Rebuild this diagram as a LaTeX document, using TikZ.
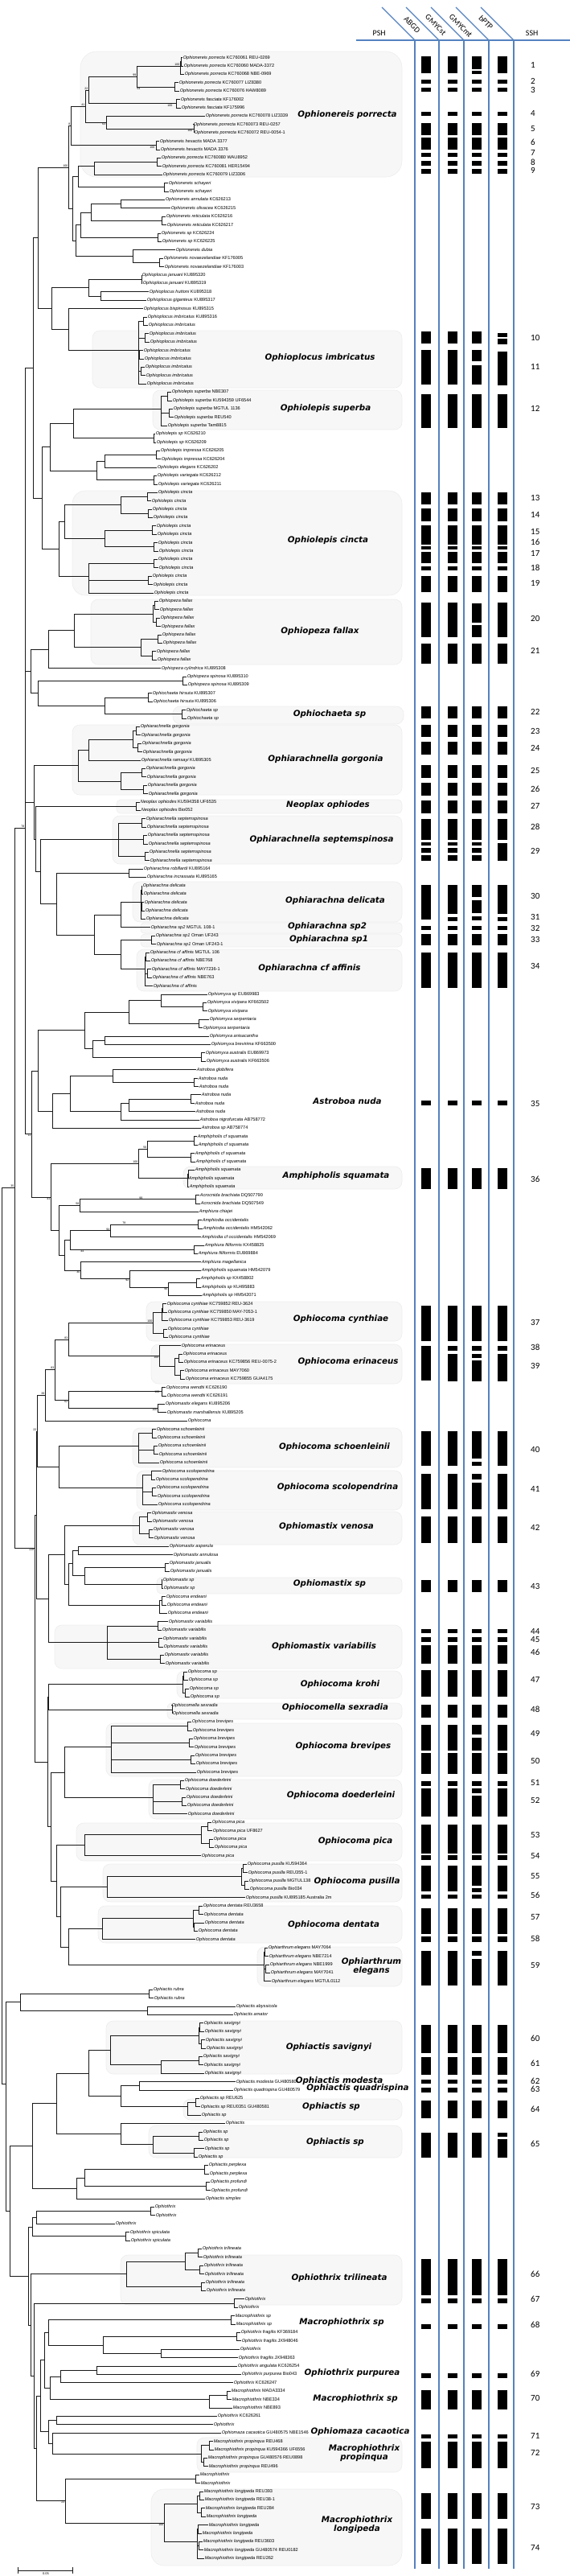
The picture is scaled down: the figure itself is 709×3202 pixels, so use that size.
\documentclass[tikz,border=0pt]{standalone}
\usepackage{fontspec}
\setmainfont{Liberation Sans}
\newfontfamily\leaffont{Liberation Sans}
\newfontfamily\cladefont{DejaVu Sans}
\newfontfamily\numfont{Carlito}
\usetikzlibrary{calc}
\definecolor{colblue}{RGB}{84,130,190}

% voucher / accession text of one leaf
\newcommand\lab[2]{\expandafter\def\csname lab#1\endcsname{#2}}
\newcommand\labtext[2]{{\itshape #2}\ifcsname lab#1\endcsname\ \csname lab#1\endcsname\fi}

\lab{1}{KC760061 REU-0269}\lab{2}{KC760060 MADA-3372}\lab{3}{KC760068 NBE-0969}
\lab{4}{KC760077 LIZ8380}\lab{5}{KC760076 HAW8089}\lab{6}{KF176002}\lab{7}{KF175996}
\lab{8}{KC760078 LIZ3339}\lab{9}{KC760073 REU-0257}\lab{10}{KC760072 REU-0054-1}
\lab{11}{MADA 3377}\lab{12}{MADA 3376}\lab{13}{KC760080 WAU8952}
\lab{14}{KC760081 HER15494}\lab{15}{KC760079 LIZ3306}
\lab{18}{KC626213}\lab{19}{KC626215}\lab{20}{KC626216}\lab{21}{KC626217}
\lab{22}{KC626224}\lab{23}{KC626225}\lab{25}{KF176005}\lab{26}{KF176003}
\lab{27}{KU895320}\lab{28}{KU895319}\lab{29}{KU895318}\lab{30}{KU895317}
\lab{31}{KU895315}\lab{32}{KU895316}
\lab{41}{NBE307}\lab{42}{KU594359 UF6544}\lab{43}{MGTUL 1136}\lab{44}{REU540}
\lab{45}{Tam8815}\lab{46}{KC626210}\lab{47}{KC626209}\lab{48}{KC626205}
\lab{49}{KC626204}\lab{50}{KC626202}\lab{51}{KC626212}\lab{52}{KC626211}
\lab{74}{KU895308}\lab{75}{KU895310}\lab{76}{KU895309}\lab{77}{KU895307}
\lab{78}{KU895306}\lab{85}{KU895305}\lab{90}{KU594358 UF6535}\lab{91}{Bio052}
\lab{98}{KU895164}\lab{99}{KU895165}\lab{105}{MGTUL 108-1}\lab{106}{Oman UF243}
\lab{107}{Oman UF243-1}\lab{108}{MGTUL 106}\lab{109}{NBE768}\lab{110}{MAY7236-1}
\lab{111}{NBE763}\lab{113}{EU869983}\lab{114}{KF663502}\lab{119}{KF663500}
\lab{120}{EU869973}\lab{121}{KF663506}\lab{128}{AB758772}\lab{129}{AB758774}
\lab{137}{DQ507790}\lab{138}{DQ507549}\lab{141}{HM542062}\lab{142}{HM542069}
\lab{143}{KX458825}\lab{144}{EU869884}\lab{146}{HM542079}\lab{147}{KX458802}
\lab{148}{KU495883}\lab{149}{HM542071}
\lab{150}{KC759852 REU-3624}\lab{151}{KC759850 MAY-7053-1}\lab{152}{KC759853 REU-3619}
\lab{157}{KC759856 REU-0075-2}\lab{158}{MAY7060}\lab{159}{KC759855 GUA4175}
\lab{160}{KC626190}\lab{161}{KC626191}\lab{162}{KU895206}\lab{163}{KU895205}
\lab{213}{UF8627}\lab{217}{KU594364}\lab{218}{REU355-1}\lab{219}{MGTUL138}
\lab{220}{Bio034}\lab{221}{KU895185 Australia 2m}\lab{222}{REU3658}
\lab{227}{MAY7064}\lab{228}{NBE7214}\lab{229}{NBE1999}\lab{230}{MAY7041}
\lab{231}{MGTUL0112}\lab{243}{GU480580}\lab{244}{GU480579}\lab{245}{REU625}
\lab{246}{REU0351 GU480581}\lab{273}{KF369184}\lab{274}{JX948046}\lab{276}{JX948363}
\lab{277}{KC626254}\lab{278}{Bio043}\lab{279}{KC626247}\lab{280}{MADA3334}
\lab{281}{NBE334}\lab{282}{NBE893}\lab{283}{KC626261}\lab{285}{GU480575 NBE1546}
\lab{286}{REU468}\lab{287}{KU594366 UF6556}\lab{288}{GU480576 REU0898}
\lab{289}{REU496}\lab{292}{REU393}\lab{293}{REU38-1}\lab{294}{REU284}
\lab{298}{REU3603}\lab{299}{GU480574 REU0182}\lab{300}{REU262}

% a run of leaves, joined in pairs, hanging from one crown
\newcommand\grp[6]{%
  \pgfmathtruncatemacro\gn{#3-#2+1}%
  \pgfmathtruncatemacro\gp{ceil(\gn/2)-1}%
  \coordinate (#1) at (#4, {61.3+10.396*(#2+#3)/2});
  \foreach \k in {0,...,\gp}{%
    \pgfmathtruncatemacro\ia{#2+2*\k}%
    \pgfmathtruncatemacro\ib{\ia+1}%
    \pgfmathsetmacro\ta{#5+mod(\ia*37,9)-4}%
    \node[leaf] (L\ia) at (\ta, {61.3+10.396*\ia}) {\labtext{\ia}{#6}};
    \ifnum\ib>#3\relax
      \draw[br] (#1) |- (L\ia.west);
    \else
      \pgfmathsetmacro\tb{#5+mod(\ib*37,9)-4}%
      \pgfmathsetmacro\px{max(#4+1,min(\ta,\tb)-5)}%
      \node[leaf] (L\ib) at (\tb, {61.3+10.396*\ib}) {\labtext{\ib}{#6}};
      \coordinate (#1-\k) at (\px, {61.3+10.396*(\ia+0.5)});
      \draw[br] (#1) |- (#1-\k);
      \draw[br] (#1-\k) |- (L\ia.west);
      \draw[br] (#1-\k) |- (L\ib.west);
    \fi
  }%
}
% a single leaf
\newcommand\lf[3]{\node[leaf] (L#1) at (#2, {61.3+10.396*#1}) {\labtext{#1}{#3}};}
% an inner node at x, halfway between two children
\newcommand\jn[4]{%
  \path let \p1=(#3), \p2=(#4) in coordinate (#1) at (#2pt, {0.5*\y1+0.5*\y2});
  \draw[br] (#1) |- (#3);
  \draw[br] (#1) |- (#4);
}
% an inner node at a given x and y
\newcommand\jny[5]{%
  \coordinate (#1) at (#2,#3);
  \draw[br] (#1) |- (#4);
  \draw[br] (#1) |- (#5);
}

\begin{document}
\begin{tikzpicture}[x=1pt, y=-1pt,
  br/.style={line width=0.8pt, black!90},
  leaf/.style={anchor=west, inner sep=0.6pt, font=\leaffont\fontsize{5.6}{6}\selectfont},
  bs/.style={inner sep=0.5pt, font=\leaffont\fontsize{3.6}{4}\selectfont},
  clade/.style={font=\cladefont\bfseries\itshape\fontsize{10.3}{11.5}\selectfont, align=center, inner sep=0pt},
  cbox/.style={fill=black!3, draw=black!7, line width=0.6pt, rounded corners=9pt},
  num/.style={anchor=west, inner sep=0pt, font=\numfont\fontsize{11}{12}\selectfont},
  hdr/.style={inner sep=0pt, font=\numfont\fontsize{10}{11}\selectfont},
  col/.style={colblue, line width=1.1pt},
  bar/.style={fill=black}]
\useasboundingbox (0,0) rectangle (709,3202);

% clade boxes
\draw[cbox, rounded corners=20pt] (100,64) rectangle (500,220);
\draw[cbox] (115,411) rectangle (500,482);
\draw[cbox] (190,485) rectangle (500,534);
\draw[cbox, rounded corners=16pt] (90,610) rectangle (500,740);
\draw[cbox] (113,745) rectangle (500,826);
\draw[cbox] (215,878) rectangle (502,900);
\draw[cbox] (90,901) rectangle (500,988);
\draw[cbox, rounded corners=5pt] (145,994) rectangle (500,1011);
\draw[cbox] (140,1014) rectangle (500,1074);
\draw[cbox] (165,1096) rectangle (500,1146);
\draw[cbox, rounded corners=4pt] (175,1147) rectangle (500,1160);
\draw[cbox, rounded corners=5pt] (175,1161) rectangle (500,1177);
\draw[cbox] (170,1180) rectangle (500,1232);
\draw[cbox] (228,1450) rectangle (500,1478);
\draw[cbox] (182,1618) rectangle (500,1667);
\draw[cbox] (188,1671) rectangle (500,1720);
\draw[cbox] (165,1775) rectangle (500,1824);
\draw[cbox] (170,1828) rectangle (500,1877);
\draw[cbox] (165,1879) rectangle (500,1920);
\draw[cbox, rounded corners=6pt] (195,1961) rectangle (500,1981);
\draw[cbox] (68,2020) rectangle (500,2074);
\draw[cbox] (220,2077) rectangle (500,2111);
\draw[cbox, rounded corners=6pt] (208,2117) rectangle (500,2137);
\draw[cbox] (132,2142) rectangle (500,2208);
\draw[cbox] (185,2212) rectangle (500,2261);
\draw[cbox] (95,2266) rectangle (500,2313);
\draw[cbox] (128,2317) rectangle (500,2364);
\draw[cbox] (122,2369) rectangle (500,2415);
\draw[cbox] (320,2420) rectangle (500,2469);
\draw[cbox] (132,2512) rectangle (500,2578);
\draw[cbox] (228,2609) rectangle (500,2635);
\draw[cbox] (185,2642) rectangle (500,2682);
\draw[cbox] (150,2803) rectangle (500,2865);
\draw[cbox] (245,3030) rectangle (500,3073);
\draw[cbox, rounded corners=16pt] (188,3094) rectangle (500,3189);

% Ophionereis
\grp{oA1}{1}{3}{224}{230}{Ophionereis porrecta}
\grp{oA2}{4}{5}{175}{222}{Ophionereis porrecta}
\jn{o99}{170}{oA1}{oA2}
\grp{oB}{6}{7}{215}{222}{Ophionereis fasciata}
\jn{o22}{110}{o99}{oB}
\lf{8}{255}{Ophionereis porrecta}
\grp{oC}{9}{10}{240}{244}{Ophionereis porrecta}
\jn{o63}{132}{L8.west}{oC}
\jn{o41}{106}{o22}{o63}
\grp{oD}{11}{12}{193}{200}{Ophionereis hexactis}
\jn{o8}{88}{o41}{oD}
\grp{oE}{13}{15}{117}{200}{Ophionereis porrecta}
\grp{oF}{16}{17}{180}{206}{Ophionereis schayeri}
\jn{oM}{97}{oE}{oF}
\lf{18}{205}{Ophionereis annulata}
\lf{19}{212}{Ophionereis olivacea}
\jn{oAO}{150}{L18.west}{L19.west}
\grp{oR}{20}{21}{170}{208}{Ophionereis reticulata}
\jn{oAR}{113}{oAO}{oR}
\grp{oS}{22}{23}{195}{200}{Ophionereis sp}
\jn{oAS}{100}{oAR}{oS}
\lf{24}{218}{Ophionereis dubia}
\grp{oN}{25}{26}{190}{200}{Ophionereis novaezelandiae}
\jn{oDN}{165}{L24.west}{oN}
\jn{oLo}{94}{oAS}{oDN}
\jn{oMid}{90}{oM}{oLo}
\jn{onereis}{85}{o8}{oMid}
\node[bs, above left] at (oA1) {100};
\node[bs, above left] at (o99) {99};
\node[bs, below left] at (oA2) {54};
\node[bs, above left] at (o22) {22};
\node[bs, above left] at (o41) {41};
\node[bs, below left] at (oB) {100};
\node[bs, below left] at (o63) {63};
\node[bs, below left] at (oC) {100};
\node[bs, above left] at (o8) {8};
\node[bs, below left] at (oD) {100};
\node[bs, above left] at (onereis) {100};

% Ophioplocus
\grp{pJ}{27}{28}{175}{180}{Ophioplocus januarii}
\lf{29}{185}{Ophioplocus huttoni}
\lf{30}{182}{Ophioplocus giganteus}
\jn{pHG}{125}{L29.west}{L30.west}
\jn{pA}{110}{pJ}{pHG}
\lf{31}{178}{Ophioplocus bispinosus}
\grp{pI}{32}{40}{172}{182}{Ophioplocus imbricatus}
\jn{pC}{85}{L31.west}{pI}
\jn{plocus}{64}{pA}{pC}
\jn{o67}{47}{onereis}{plocus}

% Ophiolepis
\grp{lSu}{41}{45}{200}{212}{Ophiolepis superba}
\grp{lSp}{46}{47}{190}{196}{Ophiolepis sp}
\jn{lSS}{91}{lSu}{lSp}
\grp{lIm}{48}{49}{180}{200}{Ophiolepis impressa}
\lf{50}{195}{Ophiolepis elegans}
\jn{lIE}{130}{lIm}{L50.west}
\grp{lVa}{51}{52}{190}{193}{Ophiolepis variegata}
\jn{lIEV}{120}{lIE}{lVa}
\jn{lB}{62}{lSS}{lIEV}
\grp{lC1}{53}{56}{150}{192}{Ophiolepis cincta}
\grp{lC2}{57}{60}{130}{195}{Ophiolepis cincta}
\grp{lC3}{61}{65}{110}{193}{Ophiolepis cincta}
\jn{lC12}{80}{lC1}{lC2}
\jn{lCi}{73}{lC12}{lC3}
\jn{lepis}{52}{lB}{lCi}
\jn{o58}{41}{o67}{lepis}

% Ophiopeza, Ophiochaeta
\grp{zF1}{66}{69}{190}{198}{Ophiopeza fallax}
\grp{zF2}{70}{73}{175}{198}{Ophiopeza fallax}
\jn{zFal}{92}{zF1}{zF2}
\lf{74}{200}{Ophiopeza cylindrica}
\jn{zFC}{60}{zFal}{L74.west}
\grp{zSp}{75}{76}{105}{233}{Ophiopeza spinosa}
\grp{zHi}{77}{78}{150}{188}{Ophiochaeta hirsuta}
\grp{zCs}{79}{80}{222}{228}{Ophiochaeta sp}
\jn{zHC}{130}{zHi}{zCs}
\jn{zSH}{47}{zSp}{zHC}
\jn{peza}{38}{zFC}{zSH}

% Ophiarachnella, Neoplax, Ophiarachna
\grp{aG1}{81}{84}{165}{178}{Ophiarachnella gorgonia}
\lf{85}{175}{Ophiarachnella ramsayi}
\jn{aGa}{110}{aG1}{L85.west}
\grp{aG2}{86}{89}{150}{180}{Ophiarachnella gorgonia}
\jn{aGor}{97}{aGa}{aG2}
\grp{aNe}{90}{91}{153}{178}{Neoplax ophiodes}
\grp{aSe}{92}{97}{147}{183}{Ophiarachnella septemspinosa}
\lf{98}{178}{Ophiarachna robillardi}
\lf{99}{182}{Ophiarachna incrassata}
\jn{aIn}{160}{L98.west}{L99.west}
\grp{aDe}{100}{104}{175}{180}{Ophiarachna delicata}
\lf{105}{187}{Ophiarachna sp2}
\grp{aS1}{106}{107}{180}{190}{Ophiarachna sp1}
\grp{aAf}{108}{112}{180}{190}{Ophiarachna cf affinis}
\jn{aD2}{150}{aDe}{L105.west}
\jn{aS1A}{150}{aS1}{aAf}
\jn{aDA}{117}{aD2}{aS1A}
\jn{aIDA}{70}{aIn}{aDA}
\jn{aSIDA}{50}{aSe}{aIDA}
\jn{aNS}{44}{aNe}{aSIDA}
\jn{arach}{42}{aGor}{aNS}

% Ophiomyxa, Astroboa
\lf{113}{258}{Ophiomyxa sp}
\grp{mX1}{114}{115}{230}{255}{Ophiomyxa vivipara}
\jn{mXa}{200}{L113.west}{mX1}
\grp{mX2}{116}{117}{240}{256}{Ophiomyxa serpentaria}
\jn{mXb}{160}{mXa}{mX2}
\lf{118}{260}{Ophiomyxa anisacantha}
\lf{119}{262}{Ophiomyxa brevirima}
\jn{mXc}{130}{L118.west}{L119.west}
\grp{mX3}{120}{121}{220}{256}{Ophiomyxa australis}
\jn{mXd}{115}{mXc}{mX3}
\jn{myxa}{105}{mXb}{mXd}
\lf{122}{244}{Astroboa globifera}
\grp{bA1}{123}{124}{200}{244}{Astroboa nuda}
\jn{bAa}{140}{L122.west}{bA1}
\grp{bA2}{125}{127}{160}{246}{Astroboa nuda}
\lf{128}{248}{Astroboa nigrofurcata}
\jn{bA3}{150}{bA2}{L128.west}
\jn{bAb}{87}{bAa}{bA3}
\lf{129}{250}{Astroboa sp}
\jn{astro}{65}{bAb}{L129.west}
\jn{myAs}{47}{myxa}{astro}

% Amphipholis, Amphiura
\grp{hA}{130}{131}{240}{245}{Amphipholis cf squamata}
\grp{hB}{132}{133}{235}{240}{Amphipholis cf squamata}
\jn{h56}{183}{hA}{hB}
\grp{hC}{134}{136}{233}{238}{Amphipholis squamata}
\jn{h100}{172}{h56}{hC}
\grp{uA}{137}{138}{178}{250}{Acrocnida brachiata}
\lf{139}{247}{Amphiura chiajei}
\jn{u58}{99}{uA}{L139.west}
\grp{uB}{140}{141}{157}{250}{Amphiodia occidentalis}
\lf{142}{250}{Amphiodia cf occidentalis}
\jn{u94}{137}{uB}{L142.west}
\grp{uC}{143}{144}{105}{250}{Amphiura filiformis}
\jn{u25}{87}{u94}{uC}
\lf{145}{250}{Amphiura magellanica}
\lf{146}{250}{Amphipholis squamata}
\grp{uD}{147}{149}{209}{250}{Amphipholis sp}
\jn{u92}{161}{L146.west}{uD}
\jn{u30}{100}{L145.west}{u92}
\jn{u11}{80}{u25}{u30}
\jn{u25b}{73}{u58}{u11}
\jn{h41}{63}{h100}{u25b}
\jn{c11}{39}{myAs}{h41}
\node[bs, above left] at (h100) {100};
\node[bs, above left] at (h56) {56};
\node[bs, above left] at (u58) {58};
\node[bs, above left] at (uA) {99};
\node[bs, above left] at (u94) {94};
\node[bs, above left] at (uB) {78};
\node[bs, below left] at (uC) {44};
\node[bs, below left] at (u30) {30};
\node[bs, below left] at (u92) {92};
\node[bs, below left] at (uD) {96};
\node[bs, below left] at (h41) {41};
\node[bs, below left] at (c11) {11};

\jny{A1}{31}{1029}{o58}{c11}
\draw[br] (A1) |- (peza);
\draw[br] (A1) |- (arach);
\node[bs, above left] at (A1) {78};

% Ophiocoma, Ophiomastix, Ophiarthrum
\grp{cC1}{150}{152}{201}{205}{Ophiocoma cynthiae}
\grp{cC2}{153}{154}{191}{212}{Ophiocoma cynthiae}
\jn{cCy}{190}{cC1}{cC2}
\lf{155}{225}{Ophiocoma erinaceus}
\grp{cE}{156}{159}{217}{228}{Ophiocoma erinaceus}
\jn{cEr}{198}{L155.west}{cE}
\jn{c83}{85}{cCy}{cEr}
\grp{cW}{160}{161}{199}{203}{Ophiocoma wendtii}
\lf{162}{205}{Ophiomastix elegans}
\lf{163}{207}{Ophiomastix marshallensis}
\jn{cM}{196}{L162.west}{L163.west}
\jn{c62}{85}{cW}{cM}
\jn{c83b}{68}{c83}{c62}
\lf{164}{233}{Ophiocoma}
\jn{c39}{56}{c83b}{L164.west}
\node[bs, above left] at (cCy) {100};
\node[bs, below left] at (cEr) {100};
\node[bs, above left] at (c83) {83};
\node[bs, left] at (cW) {100};
\node[bs, below left] at (cM) {100};
\node[bs, below left] at (c62) {62};
\node[bs, above left] at (c83b) {83};
\node[bs, above left] at (c39) {39};
\grp{cS1}{165}{169}{172}{195}{Ophiocoma schoenleinii}
\grp{cS2}{170}{174}{177}{197}{Ophiocoma scolopendrina}
\jn{c59}{73}{cS1}{cS2}
\grp{cV}{175}{178}{173}{188}{Ophiomastix venosa}
\lf{179}{210}{Ophiomastix asperula}
\lf{180}{215}{Ophiomastix annulosa}
\jn{xAA}{97}{L179.west}{L180.west}
\grp{xJ}{181}{182}{113}{213}{Ophiomastix janualis}
\grp{xSp}{183}{184}{200}{203}{Ophiomastix sp}
\jn{xJS}{105}{xJ}{xSp}
\grp{xEn}{185}{187}{198}{205}{Ophiocoma endeani}
\jn{xMa}{90}{xAA}{xJS}
\jn{xMb}{85}{xMa}{xEn}
\jn{xVM}{80}{cV}{xMb}
\grp{xVa}{188}{193}{133}{205}{Ophiomastix variabilis}
\jn{xVV}{60}{xVM}{xVa}
\grp{kK}{194}{197}{227}{232}{Ophiocoma sp}
\grp{kS}{198}{199}{213}{217}{Ophiocomella sexradia}
\jn{kKS}{60}{kK}{kS}
\grp{kB}{200}{206}{138}{240}{Ophiocoma brevipes}
\grp{kD}{207}{211}{190}{233}{Ophiocoma doederleini}
\jn{kBD}{80}{kB}{kD}
\grp{kP1}{212}{215}{250}{262}{Ophiocoma pica}
\lf{216}{250}{Ophiocoma pica}
\jn{kP}{105}{kP1}{L216.west}
\grp{kU1}{217}{220}{300}{310}{Ophiocoma pusilla}
\lf{221}{305}{Ophiocoma pusilla}
\jn{kU}{133}{kU1}{L221.west}
\grp{kT1}{222}{225}{240}{250}{Ophiocoma dentata}
\lf{226}{243}{Ophiocoma dentata}
\jn{kT}{127}{kT1}{L226.west}
\grp{kR}{227}{231}{328}{335}{Ophiarthrum elegans}
\jn{kTR}{85}{kT}{kR}
\jn{kUTR}{75}{kU}{kTR}
\jn{kPU}{70}{kP}{kUTR}
\jn{kBP}{63}{kBD}{kPU}
\jn{kKB}{59}{kKS}{kBP}
\jn{a22}{46}{c39}{c59}
\jn{a2b}{45}{a22}{xVV}
\jny{A2}{43}{1924}{a2b}{kKB}
\jny{A}{18}{1476}{A1}{A2}
\node[bs, above left] at (a22) {22};
\node[bs, below left] at (A2) {228};

% Ophiactis
\grp{tR}{232}{233}{180}{187}{Ophiactis rubra}
\lf{234}{293}{Ophiactis abyssicola}
\lf{235}{290}{Ophiactis amator}
\jn{tAA}{183}{L234.west}{L235.west}
\jn{t93}{25}{tR}{tAA}
\grp{tSa1}{236}{239}{247}{255}{Ophiactis savignyi}
\grp{tSa2}{240}{242}{200}{250}{Ophiactis savignyi}
\jn{tSav}{137}{tSa1}{tSa2}
\lf{243}{293}{Ophiactis modesta}
\lf{244}{290}{Ophiactis quadrispina}
\jn{tMQ}{173}{L243.west}{L244.west}
\grp{tSp}{245}{247}{233}{250}{Ophiactis sp}
\jn{tMQS}{150}{tMQ}{tSp}
\lf{248}{280}{Ophiactis}
\grp{tSo}{249}{252}{190}{250}{Ophiactis sp}
\jn{tF}{150}{L248.west}{tSo}
\jn{tA}{110}{tSav}{tMQS}
\jn{tB}{70}{tA}{tF}
\grp{tP1}{253}{254}{170}{262}{Ophiactis perplexa}
\grp{tP2}{255}{256}{200}{262}{Ophiactis profundi}
\jn{tP}{105}{tP1}{tP2}
\lf{257}{255}{Ophiactis simplex}
\jn{tPS}{95}{tP}{L257.west}
\jn{tC}{40}{tB}{tPS}

% Ophiothrix, Macrophiothrix, Ophiomaza
\grp{rA}{258}{259}{65}{190}{Ophiothrix}
\lf{260}{143}{Ophiothrix}
\jn{rAB}{45}{rA}{L260.west}
\grp{rC}{261}{262}{75}{165}{Ophiothrix spiculata}
\jn{rABC}{40}{rAB}{rC}
\grp{rT1}{263}{266}{230}{253}{Ophiothrix trilineata}
\grp{rT2}{267}{268}{200}{253}{Ophiothrix trilineata}
\jn{rT}{157}{rT1}{rT2}
\grp{rX}{269}{270}{83}{300}{Ophiothrix}
\grp{rM}{271}{272}{160}{295}{Macrophiothrix sp}
\grp{rF1}{273}{274}{130}{300}{Ophiothrix fragilis}
\lf{275}{298}{Ophiothrix}
\lf{276}{296}{Ophiothrix fragilis}
\jn{rF2}{200}{L275.west}{L276.west}
\jn{rF}{128}{rF1}{rF2}
\lf{277}{295}{Ophiothrix angulata}
\lf{278}{300}{Ophiothrix purpurea}
\jn{rAP}{120}{L277.west}{L278.west}
\lf{279}{290}{Ophiothrix}
\grp{rM2}{280}{282}{260}{290}{Macrophiothrix}
\lf{283}{270}{Ophiothrix}
\lf{284}{265}{Ophiothrix}
\lf{285}{275}{Ophiomaza cacaotica}
\grp{rPr}{286}{289}{250}{262}{Macrophiothrix propinqua}
\grp{rZ}{290}{291}{90}{250}{Macrophiothrix}
\grp{rL1}{292}{295}{245}{253}{Macrophiothrix longipeda}
\grp{rL2}{296}{300}{245}{255}{Macrophiothrix longipeda}
\jn{rLo}{204}{rL1}{rL2}
\jn{r1}{60}{rM}{rF}
\jn{r2}{75}{rAP}{L279.west}
\jn{r3}{62}{r2}{rM2}
\jn{r4}{55}{r1}{r3}
\jn{r5}{70}{L283.west}{L284.west}
\jn{r6}{65}{L285.west}{rPr}
\jn{r7}{60}{r5}{r6}
\jn{r8}{50}{r4}{r7}
\jn{r9}{81}{rZ}{rLo}
\jn{r10}{45}{r8}{r9}
\jn{r11}{42}{rX}{r10}
\jn{r12}{38}{rT}{r11}
\jn{rTh}{35}{rABC}{r12}
\jn{B2}{12}{tC}{rTh}
\jny{B}{7}{2590}{t93}{B2}
\jny{R}{2}{2032}{A}{B}
\node[bs, below left] at (rLo) {100};
\node[bs, below left] at (r9) {23};
\node[bs, above left] at (A) {35};

% scale bar
\coordinate (sbl) at (22,3195);
\coordinate (sbr) at (91,3195);
\draw[br, |-|] (sbl) -- (sbr);
\node[inner sep=0pt, font=\leaffont\fontsize{4}{4}\selectfont] (sbt) at (57,3199.5) {0.05};

% clade names
\node[clade] (c1) at (432,143) {Ophionereis porrecta};
\node[clade] (c2) at (398,445) {Ophioplocus imbricatus};
\node[clade] (c3) at (405,508) {Ophiolepis superba};
\node[clade] (c4) at (408,672) {Ophiolepis cincta};
\node[clade] (c5) at (398,784.5) {Ophiopeza fallax};
\node[clade] (c6) at (410,888) {Ophiochaeta sp};
\node[clade] (c7) at (405,944) {Ophiarachnella gorgonia};
\node[clade] (c8) at (408,1001) {Neoplax ophiodes};
\node[clade] (c9) at (400,1043.7) {Ophiarachnella septemspinosa};
\node[clade] (c10) at (417,1120) {Ophiarachna delicata};
\node[clade] (c11) at (407,1152) {Ophiarachna sp2};
\node[clade] (c12) at (409,1167.6) {Ophiarachna sp1};
\node[clade] (c13) at (385,1204) {Ophiarachna cf affinis};
\node[clade] (c14) at (432,1369) {Astroboa nuda};
\node[clade] (c15) at (418,1462) {Amphipholis squamata};
\node[clade] (c16) at (424,1640) {Ophiocoma cynthiae};
\node[clade] (c17) at (433,1693) {Ophiocoma erinaceus};
\node[clade] (c18) at (416,1799) {Ophiocoma schoenleinii};
\node[clade] (c19) at (420,1849) {Ophiocoma scolopendrina};
\node[clade] (c20) at (406,1898) {Ophiomastix venosa};
\node[clade] (c21) at (410,1969) {Ophiomastix sp};
\node[clade] (c22) at (403,2047) {Ophiomastix variabilis};
\node[clade] (c23) at (423,2094) {Ophiocoma krohi};
\node[clade] (c24) at (417,2123) {Ophiocomella sexradia};
\node[clade] (c25) at (427,2171) {Ophiocoma brevipes};
\node[clade] (c26) at (424,2232) {Ophiocoma doederleini};
\node[clade] (c27) at (442,2289) {Ophiocoma pica};
\node[clade] (c28) at (444,2338.6) {Ophiocoma pusilla};
\node[clade] (c29) at (415,2393) {Ophiocoma dentata};
\node[clade] (c30) at (462,2444) {Ophiarthrum\\elegans};
\node[clade] (c31) at (409,2545) {Ophiactis savignyi};
\node[clade] (c32) at (422,2587) {Ophiactis modesta};
\node[clade] (c33) at (445,2596) {Ophiactis quadrispina};
\node[clade] (c34) at (412,2618.5) {Ophiactis sp};
\node[clade] (c35) at (417,2662.6) {Ophiactis sp};
\node[clade] (c36) at (422,2832) {Ophiothrix trilineata};
\node[clade] (c37) at (425,2887) {Macrophiothrix sp};
\node[clade] (c38) at (438,2950) {Ophiothrix purpurea};
\node[clade] (c39) at (442,2981.5) {Macrophiothrix sp};
\node[clade] (c40) at (448,3023) {Ophiomaza cacaotica};
\node[clade] (c41) at (453,3049) {Macrophiothrix\\propinqua};
\node[clade] (c42) at (444,3138) {Macrophiothrix\\longipeda};

% header and column rules
\coordinate (h0) at (443,50);
\coordinate (h1) at (709,50);
\draw[col] (h0) -- (h1);
\foreach \i/\cx in {1/516,2/546,3/577,4/608,5/639}{
  \coordinate (top\i) at (\cx,50);
  \coordinate (bot\i) at (\cx,3193);
  \coordinate (tip\i) at (\cx-41,9);
  \draw[col] (top\i) -- (bot\i);
  \draw[col] (top\i) -- (tip\i);
}
\node[hdr] (psh) at (471.7,41.7) {PSH};
\node[hdr] (ssh) at (661.7,41.7) {SSH};
\node[hdr, rotate=-45] (abgd) at (512.5,31) {ABGD};
\node[hdr, rotate=-45] (gst) at (542,31) {GMYCst};
\node[hdr, rotate=-45] (gmt) at (573,32) {GMYCmt};
\node[hdr, rotate=-45] (bptp) at (604.5,28) {bPTP};

% delimitation bars, the same in all four columns
\foreach \ya/\yb in {99/104, 109/114.3, 139/144, 152.7/168.3, 171/186, 190/195,
  200/205.7, 210/215.7, 490/532, 612/627, 632/648, 653/677, 679/683, 686/700,
  704/709, 716/736, 800/825, 878/893, 901/916, 922/938, 951/967, 973/989,
  995/1010.5, 1018/1044, 1151/1156, 1161/1175, 1184/1228, 1367.6/1373.8,
  1452/1478, 1623/1667, 1884.5/1917.7, 1964/1979, 2025/2030, 2035/2041,
  2045/2068, 2076/2109, 2119/2134.5, 2179/2205, 2213.6/2219.7, 2268/2304,
  2306/2311.5, 2355/2360, 2372/2404, 2407.4/2413.6, 2517/2552, 2557/2579,
  2585/2590, 2595/2600.5, 2610.5/2633, 2808/2853, 2856.6/2863, 2889/2894.5,
  2950/2956, 2971/2995, 3025.5/3031, 3035/3068, 3099/3131, 3143/3186.5}{
  \foreach \cx in {530,562.5,593,625}
    \fill[bar] (\cx-6,\ya) rectangle (\cx+6,\yb);
}
% bars where the columns differ
\foreach \ya/\yb in {70/90.7, 412/427, 435/478, 749/792, 1047/1051, 1054/1060,
  1063/1070, 1100/1143, 1673/1716, 1779/1822, 1832/1876, 2143.7/2176,
  2222.8/2258, 2319/2351, 2425/2468, 2651/2682.4}
  \fill[bar] (524,\ya) rectangle (536,\yb);
\foreach \ya/\yb in {70/90.7, 412/427, 435/478, 749/792, 1047/1051, 1054/1060,
  1063/1070, 1100/1135.5, 1139.6/1144.7, 1673/1679, 1683/1717, 1779/1822,
  1832/1876, 2143.7/2176, 2222.8/2258, 2319/2351, 2425/2468, 2651/2682.4}
  \fill[bar] (556.5,\ya) rectangle (568.5,\yb);
\foreach \ya/\yb in {70/86, 87.5/92.3, 412/427, 435/449, 454/478, 750/774,
  777/792, 1047/1051, 1054/1060, 1063/1070, 1100/1115, 1119/1134.5,
  1138.6/1143.7, 1673/1679, 1683/1688, 1691/1717, 1779/1813, 1817/1822,
  1832/1838.6, 1842.7/1876, 2143.7/2156, 2160/2176, 2222.8/2228.7, 2232/2258,
  2319/2343.6, 2347/2352, 2425/2431, 2435/2468, 2651/2682.4}
  \fill[bar] (587,\ya) rectangle (599,\yb);
\foreach \ya/\yb in {70/90.7, 413.6/418.7, 421/428, 436.5/479, 749/792,
  1048/1070, 1100/1135.5, 1139.6/1144.7, 1673/1679, 1683/1717, 1779/1822,
  1832/1876, 2143.7/2176, 2222.8/2258, 2319/2351, 2425/2468, 2651/2655.5,
  2659/2682.4}
  \fill[bar] (619,\ya) rectangle (631,\yb);

% species numbers
\foreach \n/\y in {1/80.7, 2/100.7, 3/111.7, 4/140.7, 5/160, 6/177, 7/190,
  8/201.7, 9/212, 10/420, 11/456, 12/508, 13/619, 14/640, 15/661, 16/674,
  17/688, 18/706, 19/725, 20/769, 21/809, 22/884.5, 23/908.5, 24/930, 25/958,
  26/981, 27/1002, 28/1028, 29/1058, 30/1114, 31/1139.6, 32/1154, 33/1167.6,
  34/1201, 35/1372, 36/1466, 37/1644, 38/1675, 39/1698, 40/1802, 41/1851,
  42/1899, 43/1972, 44/2028, 45/2037.5, 46/2054, 47/2087.5, 48/2125, 49/2155,
  50/2189, 51/2216, 52/2237.5, 53/2281, 54/2307, 55/2332, 56/2356, 57/2383,
  58/2410, 59/2443, 60/2534, 61/2565, 62/2587, 63/2597, 64/2622, 65/2665,
  66/2827, 67/2857.5, 68/2890, 69/2951, 70/2980.6, 71/3028, 72/3049,
  73/3115.5, 74/3166.6}
  \node[num] (n\n) at (660,\y) {\n};
\end{tikzpicture}
\end{document}
